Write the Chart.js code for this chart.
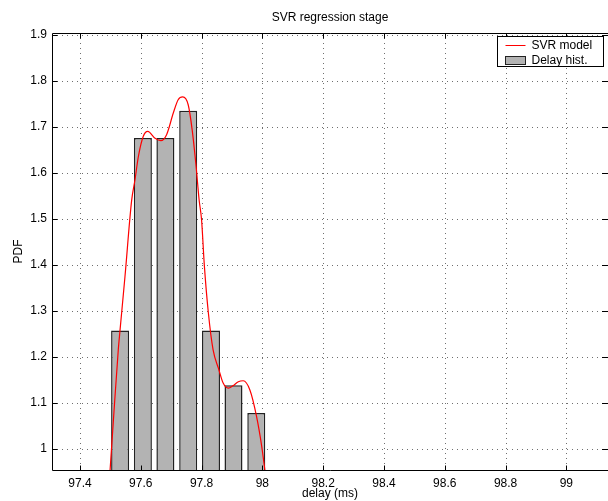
<!DOCTYPE html>
<html lang="en">
<head>
<meta charset="UTF-8">
<title>SVR regression stage</title>
<script src="https://cdn.jsdelivr.net/npm/chart.js@4.4.1/dist/chart.umd.min.js"></script>
<style>
  html, body { margin: 0; padding: 0; background: #fff; overflow: hidden; }
  canvas { display: block; }
</style>
</head>
<body>
<canvas id="myChart" width="608" height="501"></canvas>
<script>
  // histogram: bin centers and heights
  const binCenters = [97.532, 97.607, 97.681, 97.756, 97.831, 97.905, 97.980];
  const binHeights = [1.257, 1.676, 1.676, 1.735, 1.257, 1.138, 1.078];

  // SVR model curve
  const svrX = [97.4987, 97.5118, 97.526, 97.5316, 97.548, 97.570, 97.581, 97.592, 97.608, 97.623,
    97.647, 97.666, 97.685, 97.707, 97.723, 97.738, 97.756, 97.769, 97.781, 97.792,
    97.800, 97.809, 97.822, 97.838, 97.857, 97.871, 97.888, 97.903, 97.921, 97.937,
    97.959, 97.981, 97.998, 98.009];
  const svrY = [0.95, 1.080, 1.215, 1.2565, 1.374, 1.54, 1.585, 1.635, 1.679, 1.690,
    1.675, 1.670, 1.683, 1.730, 1.759, 1.765, 1.748, 1.694, 1.621, 1.541,
    1.498, 1.400, 1.298, 1.215, 1.172, 1.143, 1.132, 1.137, 1.146, 1.148,
    1.128, 1.070, 1.005, 0.95];

  // axes
  const xTicks = [97.4, 97.6, 97.8, 98, 98.2, 98.4, 98.6, 98.8, 99];
  const xTickLabels = ['97.4', '97.6', '97.8', '98', '98.2', '98.4', '98.6', '98.8', '99'];
  const yTicks = [1, 1.1, 1.2, 1.3, 1.4, 1.5, 1.6, 1.7, 1.8, 1.9];
  const yTickLabels = ['1', '1.1', '1.2', '1.3', '1.4', '1.5', '1.6', '1.7', '1.8', '1.9'];
  const xMin = 97.308, xMax = 99.137;
  const yMin = 0.954, yMax = 1.904;
  const chartTitle = 'SVR regression stage';

  const FONT = 'Liberation Sans, Arial, Helvetica, sans-serif';
  const barFill = '#b3b3b3';

  // matlab-like box, dotted grid, inner ticks, title and legend
  const frame = {
    id: 'frame',
    beforeDatasetsDraw(chart) {
      const { ctx, chartArea: a, scales: { x, y } } = chart;
      ctx.save();
      ctx.strokeStyle = '#6f6f6f';
      ctx.lineWidth = 1;
      ctx.setLineDash([1, 4]);
      ctx.beginPath();
      xTicks.forEach(v => {
        const px = Math.round(x.getPixelForValue(v)) + 0.5;
        ctx.moveTo(px, a.top); ctx.lineTo(px, a.bottom);
      });
      yTicks.forEach(v => {
        const py = Math.round(y.getPixelForValue(v)) + 0.5;
        ctx.moveTo(a.left, py); ctx.lineTo(a.right, py);
      });
      ctx.stroke();
      ctx.restore();
    },
    afterDraw(chart) {
      const { ctx, chartArea: a, scales: { x, y } } = chart;
      const L = Math.round(a.left) + 0.5, T = Math.round(a.top) + 0.5, B = Math.round(a.bottom) + 0.5;
      const R = a.right;
      ctx.save();
      ctx.strokeStyle = '#000';
      ctx.lineWidth = 1;
      ctx.beginPath();
      ctx.moveTo(R, T); ctx.lineTo(L, T); ctx.lineTo(L, B); ctx.lineTo(R, B);
      // ticks pointing in
      xTicks.forEach(v => {
        const px = Math.round(x.getPixelForValue(v)) + 0.5;
        ctx.moveTo(px, B); ctx.lineTo(px, B - 5);
        ctx.moveTo(px, T); ctx.lineTo(px, T + 5);
      });
      yTicks.forEach(v => {
        const py = Math.round(y.getPixelForValue(v)) + 0.5;
        ctx.moveTo(L, py); ctx.lineTo(L + 5, py);
        ctx.moveTo(R, py); ctx.lineTo(R - 6, py);
      });
      ctx.stroke();

      // title, centered over the axes
      ctx.fillStyle = '#000';
      ctx.font = '12px ' + FONT;
      ctx.textAlign = 'center';
      ctx.textBaseline = 'middle';
      ctx.fillText(chartTitle, (a.left + a.right) / 2, a.top - 15);

      // legend
      ctx.textAlign = 'left';
      const lx = Math.round(a.right) - 110.5, ly = T + 3;
      ctx.fillStyle = '#fff';
      ctx.fillRect(lx, ly, 106, 30);
      ctx.strokeRect(lx, ly, 106, 30);
      ctx.strokeStyle = '#ff0000';
      ctx.beginPath();
      ctx.moveTo(lx + 8, ly + 9); ctx.lineTo(lx + 28, ly + 9);
      ctx.stroke();
      ctx.fillStyle = barFill;
      ctx.strokeStyle = '#222';
      ctx.fillRect(lx + 8, ly + 20, 20, 8);
      ctx.strokeRect(lx + 8, ly + 20, 20, 8);
      ctx.fillStyle = '#000';
      ctx.fillText('SVR model', lx + 34, ly + 9);
      ctx.fillText('Delay hist.', lx + 34, ly + 24);
      ctx.restore();
    }
  };

  const ctx = document.getElementById('myChart').getContext('2d');
  const myChart = new Chart(ctx, {
    type: 'bar',
    data: {
      datasets: [{
        type: 'line',
        label: 'SVR model',
        data: svrX.map((v, i) => ({ x: v, y: svrY[i] })),
        borderColor: '#ff0000',
        borderWidth: 1.2,
        pointRadius: 0,
        cubicInterpolationMode: 'monotone',
        fill: false,
        clip: 0,
        order: 0
      }, {
        label: 'Delay hist.',
        data: binCenters.map((v, i) => ({ x: v, y: binHeights[i] })),
        backgroundColor: barFill,
        borderColor: '#222',
        borderWidth: 1.5,
        barPercentage: 0.8,
        categoryPercentage: 1,
        clip: 0,
        order: 1
      }]
    },
    options: {
      responsive: false,
      animation: false,
      devicePixelRatio: 1,
      events: [],
      layout: { padding: { top: 33, left: 0, right: 0, bottom: 0 } },
      plugins: {
        legend: { display: false },
        tooltip: { enabled: false },
        title: { display: false }
      },
      scales: {
        x: {
          type: 'linear',
          min: xMin,
          max: xMax,
          offset: false,
          grid: { display: false, drawTicks: false, offset: false },
          border: { display: false },
          afterBuildTicks: s => { s.ticks = xTicks.map(v => ({ value: v })); },
          afterFit: s => { s.height = 31; },
          ticks: {
            autoSkip: false,
            maxRotation: 0,
            padding: 6,
            color: '#000',
            font: { family: FONT, size: 12 },
            callback: (v, i) => xTickLabels[i]
          },
          title: {
            display: true,
            text: 'delay (ms)',
            color: '#000',
            font: { family: FONT, size: 12 },
            padding: { top: 0, bottom: 0 }
          }
        },
        y: {
          min: yMin,
          max: yMax,
          grid: { display: false, drawTicks: false },
          border: { display: false },
          afterBuildTicks: s => { s.ticks = yTicks.map(v => ({ value: v })); },
          afterFit: s => { s.width = 52; },
          ticks: {
            padding: 5,
            color: '#000',
            font: { family: FONT, size: 12 },
            callback: (v, i) => yTickLabels[i]
          },
          title: {
            display: true,
            text: 'PDF',
            color: '#000',
            font: { family: FONT, size: 12 },
            padding: { top: 11, bottom: 0 }
          }
        }
      }
    },
    plugins: [frame]
  });
</script>
</body>
</html>
